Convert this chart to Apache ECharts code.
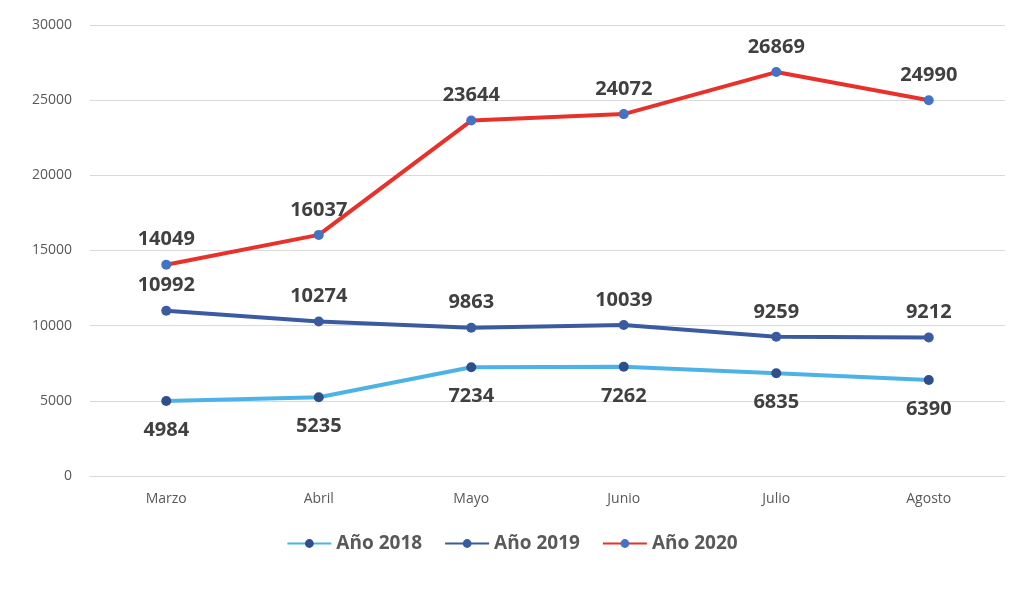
<!DOCTYPE html>
<html><head><meta charset="utf-8">
<script src="https://cdn.jsdelivr.net/npm/echarts@6/dist/echarts.min.js"></script>
<style>html,body{margin:0;padding:0;background:#fff}#c{width:1024px;height:592px}</style>
</head><body><div id="c"></div>
<script>
var categories = ['Marzo','Abril','Mayo','Junio','Julio','Agosto'];
var seriesNames = ['Año 2018','Año 2019','Año 2020'];
var values2018 = [4984,5235,7234,7262,6835,6390];
var values2019 = [10992,10274,9863,10039,9259,9212];
var values2020 = [14049,16037,23644,24072,26869,24990];
var yTicks = {min:0, max:30000, interval:5000};

var chart = echarts.init(document.getElementById('c'));
function mk(name, data, lineColor, markColor, pos, dist){
  return {name:name, type:'line', data:data, symbol:'circle', symbolSize:10,
    lineStyle:{color:lineColor, width:4}, itemStyle:{color:markColor},
    label:{show:true, position:pos, distance:dist, fontSize:20, fontWeight:'bold', color:'#404040', fontFamily:'Open Sans'}, z:3};
}
chart.setOption({
  animation:false,
  backgroundColor:'#fff',
  grid:{left:90, right:19, top:25, bottom:116},
  legend:{bottom:34, left:'center', itemWidth:44, itemHeight:11, itemGap:22,
    textStyle:{fontSize:19, fontWeight:'bold', color:'#595959', fontFamily:'Open Sans'}},
  xAxis:{type:'category', data:categories, boundaryGap:true,
    axisLine:{lineStyle:{color:'#d9d9d9'}}, axisTick:{show:false},
    axisLabel:{fontSize:14, color:'#595959', fontFamily:'Open Sans', margin:16}},
  yAxis:{type:'value', min:yTicks.min, max:yTicks.max, interval:yTicks.interval,
    axisLine:{show:false}, axisTick:{show:false},
    splitLine:{lineStyle:{color:'#d9d9d9'}},
    axisLabel:{fontSize:14, color:'#595959', fontFamily:'Open Sans', margin:18, formatter:function(v){return String(v);}}},
  series:[
    mk(seriesNames[0], values2018, '#4DB3E6', '#2F4E8C', 'bottom', 14),
    mk(seriesNames[1], values2019, '#3A5BA0', '#3A5BA0', 'top', 10),
    mk(seriesNames[2], values2020, '#E8312A', '#4472C4', 'top', 10)
  ]
});
</script></body></html>
